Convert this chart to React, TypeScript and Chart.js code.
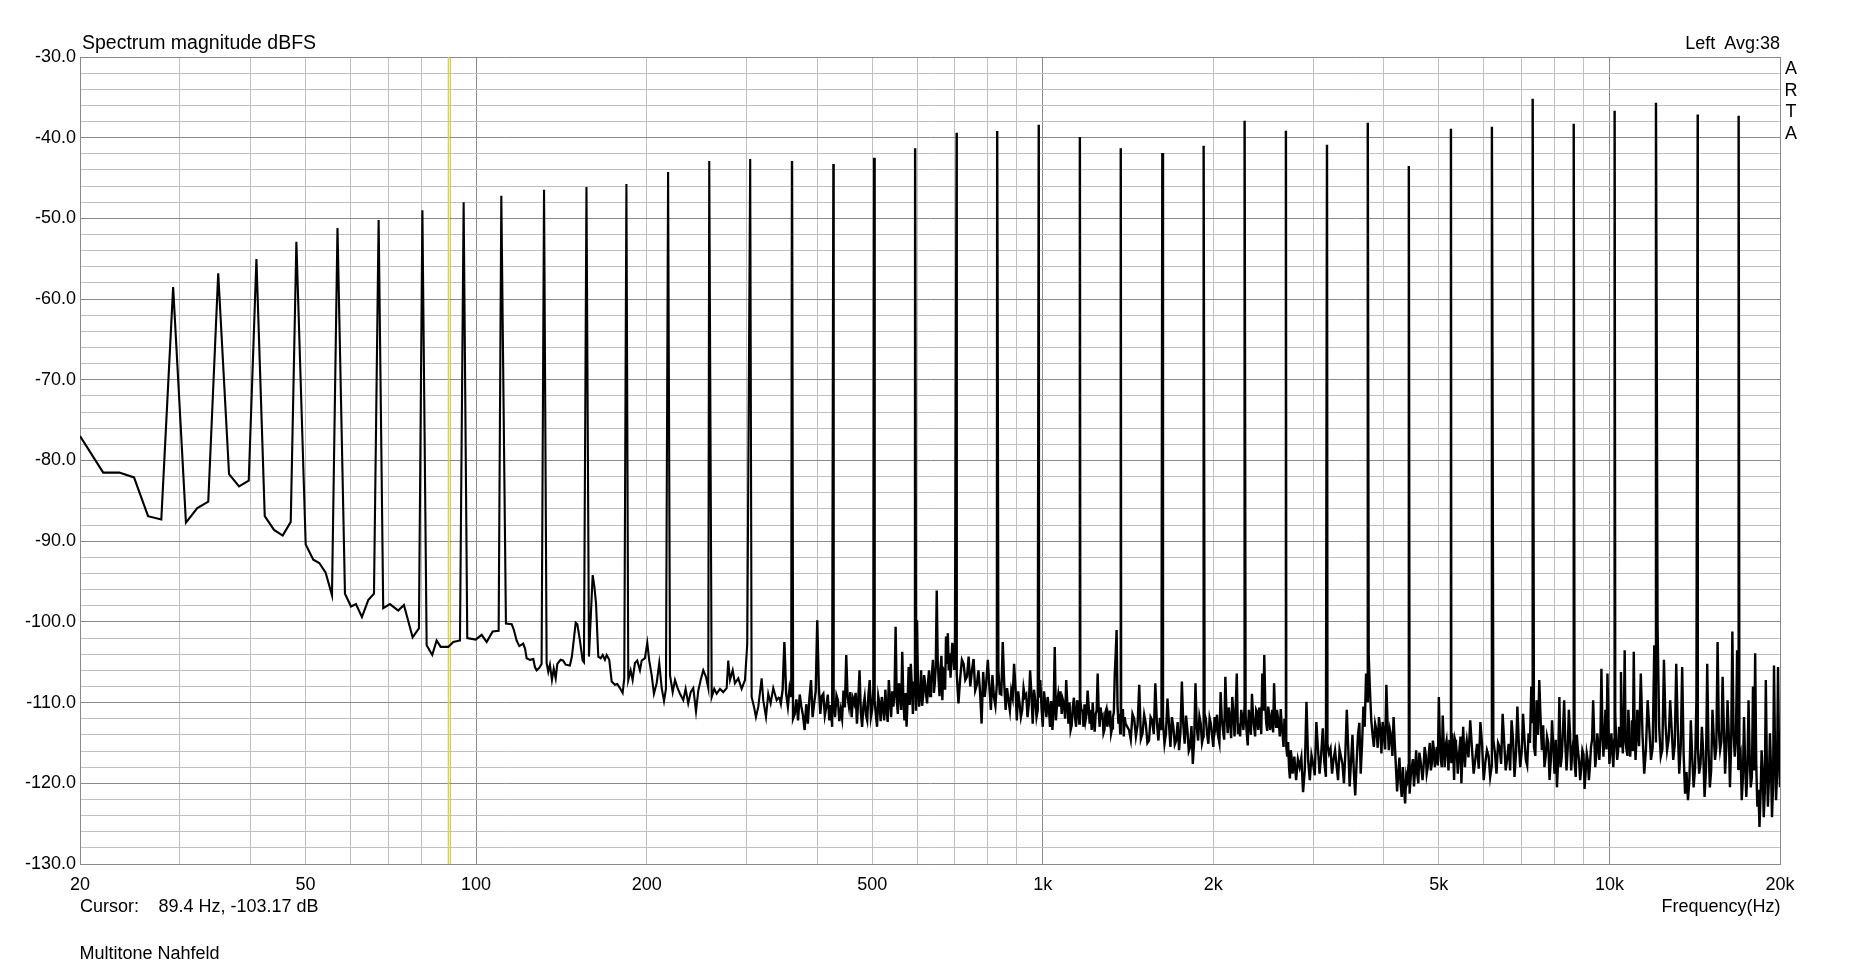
import React, { useEffect, useRef } from 'react';
import { Chart, registerables } from 'chart.js';

Chart.register(...registerables);

// ---- Multitone peaks (Hz, dBFS) ----
const toneHz = [29.2, 35.07, 40.96, 48.18, 56.94, 67.3, 80.4, 95.07, 110.8, 131.8, 156.6, 184.2, 218.2, 257.9, 304.6, 361.0, 427.2, 504.0, 595.4, 704.9, 831.0, 983.9, 1162.8, 1373, 1625.6, 1922.8, 2271, 2686, 3174, 3746, 4426, 5252, 6203, 7321, 8650, 10214, 12082, 14316, 16906];
const toneDb = [-58.5, -56.8, -55.05, -52.9, -51.2, -50.2, -49.0, -48.0, -47.2, -46.45, -46.1, -45.75, -44.26, -42.9, -42.65, -42.9, -43.27, -42.5, -41.3, -39.39, -39.18, -38.4, -39.92, -41.3, -41.9, -41.0, -37.9, -39.14, -40.88, -38.15, -43.5, -38.9, -38.64, -35.17, -38.27, -36.66, -35.67, -37.12, -37.28];

// ---- Low-frequency floor vertices (Hz, dBFS) ----
const lowHz = [20, 21.98, 23.46, 24.91, 26.37, 27.83, 30.76, 32.21, 33.68, 36.65,
  38.17, 39.70, 42.37, 44.0, 45.58, 47.09, 50.04, 51.61, 52.88, 54.27,
  55.68, 58.70, 60.15, 61.38, 62.89, 64.52, 66.04, 68.57, 70.47, 72.88,
  74.59, 77.27, 79.27, 81.80, 83.68, 85.19, 86.59, 89.31, 91.14, 93.66,
  96.48, 99.83, 102.3, 104.4, 106.96, 109.6, 112.9, 115.6, 116.6, 117.9,
  119.2, 121.1, 122.0, 122.8, 124.5, 126.2, 127.0, 127.9, 129.3, 130.5,
  133.2, 134.1, 135.0, 136.1, 137.1, 138.2, 139.1, 141.0, 142.5, 143.9,
  146.4, 147.6, 149.9, 150.9, 152.5, 153.3, 154.2, 155.0, 158.2, 160.6,
  161.7, 162.8, 164.3, 165.9, 167.3, 168.8, 170.0, 171.8, 173.5, 175.8,
  177.5, 179.4, 181.4, 182.6, 185.6, 187.4, 188.9, 190.7, 192.5, 194.6,
  196.0, 198.6, 200.5, 202.1, 204.1, 206.0, 208.3, 210.5, 212.6, 214.6,
  216.3, 219.9, 222.3, 224.4, 226.8, 229.0, 232.1, 234.3, 236.8, 239.2,
  241.7, 244.4, 246.7, 249.1, 251.7, 254.5, 256.9, 260.5, 263.2, 265.8,
  269.4, 273.0, 276.8, 278.6, 280.6, 283.7, 286.3, 290.2, 294.2, 298.2,
  301.0, 306.4, 309.3, 311.8, 314.8, 319.1, 321.2, 324.8, 327.8, 331.0,
  334.5, 339.2, 342.8];
const lowDb = [-76.96, -81.5, -81.5, -82.1, -86.9, -87.3, -87.7, -85.9, -85.1, -81.7,
  -83.2, -82.5, -86.9, -88.6, -89.3, -87.6, -90.4, -92.3, -92.7, -93.9,
  -96.7, -96.5, -98.1, -97.8, -99.4, -97.3, -96.5, -98.3, -97.8, -98.6,
  -97.9, -101.9, -100.8, -102.9, -104.1, -102.3, -103.1, -103.1, -102.5, -102.3,
  -102.0, -102.2, -101.6, -102.5, -101.2, -101.1, -100.2, -100.3, -101.0, -102.3,
  -103.0, -102.7, -103.3, -104.5, -104.7, -104.6, -105.6, -106.0, -105.7, -105.2,
  -105.1, -106.2, -105.3, -107.2, -105.8, -107.0, -105.2, -104.7, -104.8, -105.3,
  -105.4, -104.3, -100.1, -100.3, -102.3, -103.5, -104.8, -105.0, -104.3, -94.2,
  -95.6, -97.7, -104.3, -104.5, -104.1, -104.7, -104.1, -104.7, -107.4, -107.8,
  -107.7, -108.2, -108.8, -107.0, -107.2, -106.0, -107.2, -105.1, -104.8, -106.0,
  -104.8, -104.5, -102.6, -104.8, -106.6, -108.9, -107.6, -105.1, -108.2, -109.8,
  -108.3, -106.6, -108.7, -107.2, -108.2, -108.9, -109.7, -108.3, -110.1, -108.7,
  -108.2, -111.1, -108.5, -107.2, -106.0, -106.8, -108.2, -109.3, -108.3, -108.9,
  -108.3, -108.7, -108.2, -104.8, -107.2, -106.0, -107.6, -107.0, -108.3, -107.2,
  -102.7, -109.3, -110.5, -111.8, -110.5, -107.0, -109.7, -111.8, -108.9, -110.1,
  -108.2, -109.7, -109.3];

// ---- Noise floor, sampled on regular frequency grids (start Hz, step Hz, dBFS) ----
const floorAStart = 345, floorAStep = 2.5;
const floorADb = [-110.1, -108.4, -102.5, -108.9, -110.5, -108.2, -109.3, -112.0, -111.4, -109.6,
  -112.2, -109.0, -110.5, -111.6, -113.4, -110.2, -112.6, -109.4, -107.2, -111.8,
  -110.1, -108.6, -99.8, -107.9, -111.4, -109.2, -108.9, -111.6, -110.5, -109.0,
  -112.2, -110.3, -113.0, -110.0, -111.8, -109.1, -109.7, -112.3, -110.9, -112.0,
  -108.5, -110.6, -104.1, -109.3, -110.5, -108.7, -111.8, -109.5, -110.1, -108.8,
  -112.6, -109.7, -106.0, -111.2, -113.0, -110.4, -109.3, -111.5, -112.2, -109.0,
  -107.2, -111.8, -110.9, -108.2, -109.7, -111.5, -113.0, -109.2, -110.1, -112.3,
  -109.3, -110.6, -112.2, -108.4, -110.9, -112.4, -107.2, -109.5, -111.8, -108.6,
  -110.5, -108.9, -100.6, -109.7, -111.4, -107.6, -108.5, -110.9, -103.7, -109.4,
  -112.2, -108.8, -113.0, -109.6, -105.6, -110.3, -105.2, -108.0, -111.4, -107.4,
  -109.3, -111.0, -99.8, -108.4, -110.5, -108.8, -106.0, -110.4, -109.3, -106.6,
  -107.6, -109.0, -110.1, -107.4, -106.0, -109.2, -107.6, -106.4, -104.7, -108.8,
  -107.6, -105.4, -96.1, -104.6, -107.2, -109.2, -106.0, -104.2, -109.7, -105.8,
  -106.0, -108.4, -101.8, -105.2, -101.4, -106.0, -103.9, -106.9, -104.7, -102.6,
  -103.5, -105.8, -102.7];

const floorBStart = 705, floorBStep = 5;
const floorBDb = [-106.4, -110.1, -107.0, -104.7, -105.2, -107.2, -106.8, -104.3, -108.0, -106.0,
  -104.6, -108.5, -107.8, -106.0, -108.6, -112.6, -106.2, -109.3, -107.4, -104.7,
  -108.0, -110.9, -106.6, -109.3, -110.4, -107.6, -106.0, -108.9, -109.0, -102.5,
  -107.6, -110.9, -108.2, -109.7, -111.0, -108.5, -109.4, -105.2, -108.0, -112.2,
  -108.6, -110.1, -111.8, -110.9, -108.2, -109.3, -109.0, -111.8, -110.2, -106.0,
  -109.0, -112.6, -108.4, -109.7, -111.8, -110.9, -109.4, -107.2, -110.6, -113.0,
  -108.6, -110.1, -111.8, -109.3, -110.6, -113.0, -109.8, -113.4, -111.0, -103.1,
  -112.2, -110.1, -109.0, -110.5, -108.6, -111.4, -109.6, -110.1, -112.0, -107.2,
  -110.2, -112.6, -110.0, -113.4, -112.8, -110.5, -109.4, -111.8, -113.0, -109.7,
  -110.6, -112.6, -109.8, -110.9, -111.0, -113.0, -110.2, -112.2, -111.4, -108.5,
  -110.4, -112.6, -110.9, -113.4, -110.0, -112.2, -113.6, -111.4, -111.0, -106.4,
  -110.8, -113.0, -110.6, -111.8, -111.6, -113.8, -113.4, -111.2, -110.8, -113.0,
  -111.6, -112.2, -111.0, -113.8, -113.2, -111.8, -111.2, -106.4, -104.0, -101.0,
  -110.4, -112.6, -111.4, -113.8, -111.0, -112.2, -110.8, -114.2, -111.8, -112.6];

const floorCStart = 1420, floorCStep = 10;
const floorCDb = [-113.4, -114.6, -111.4, -112.0, -114.2, -112.8, -107.8, -114.5, -113.8, -111.5,
  -112.6, -115.0, -114.7, -111.8, -112.2, -113.9, -107.6, -112.5, -114.7, -111.9,
  -113.4, -112.3, -115.1, -113.8, -109.5, -112.6, -115.5, -111.8, -113.0, -115.2,
  -114.7, -112.4, -115.9, -113.6, -107.4, -112.7, -115.1, -111.6, -113.4, -116.0,
  -115.5, -112.9, -117.6, -114.8, -107.6, -113.1, -114.7, -111.7, -112.6, -115.0,
  -114.2, -111.4, -112.0, -113.9, -115.1, -111.9, -112.6, -114.1, -115.5, -111.8,
  -113.0, -111.5, -114.2, -115.0, -108.7, -112.0, -113.4, -114.6, -106.8, -111.3,
  -113.8, -110.6, -112.2, -114.4, -109.3, -111.2, -114.2, -110.8, -106.4, -113.9,
  -112.6, -114.2, -110.9, -111.9, -113.4, -110.6, -111.4, -113.6, -115.3, -110.9,
  -112.2, -114.0, -108.9, -111.6, -113.0, -114.2, -110.9, -111.2, -113.4, -110.6,
  -111.8, -113.9, -106.4, -111.0, -104.1, -110.2, -112.6, -113.5, -110.5, -111.6,
  -113.4, -112.2, -110.9, -113.7, -107.6, -111.5, -113.0, -110.9, -111.8, -112.6,
  -114.2, -110.8, -112.6, -113.9, -115.5, -112.0, -113.8, -115.4, -116.7, -114.9,
  -118.0, -119.4, -115.9, -116.9, -118.8, -117.8, -116.7, -118.3, -119.6];

const floorDStart = 2820, floorDStep = 20;
const floorDDb = [-117.0, -118.0, -116.8, -121.1, -118.4, -109.9, -117.2, -119.6, -116.5, -117.6,
  -119.0, -112.4, -115.8, -118.8, -116.4, -113.2, -117.4, -119.2, -115.2, -116.3,
  -115.7, -118.8, -117.0, -115.9, -117.8, -119.6, -115.8, -116.7, -117.6, -120.0,
  -116.2, -110.9, -115.6, -120.4, -117.2, -114.0, -118.6, -121.5, -117.4, -114.0,
  -112.5, -118.8, -115.2, -110.5, -113.0, -106.4, -109.8, -104.1, -108.6, -112.2,
  -114.0, -115.5, -112.6, -113.4, -115.6, -111.8, -113.2, -116.3, -112.4, -114.2,
  -115.8, -107.8, -112.6, -115.9, -113.4, -114.2, -116.6, -111.8, -115.0, -118.0,
  -121.0, -118.8, -116.8, -120.0, -121.7, -118.0, -120.6, -122.5, -119.0, -119.6,
  -117.8, -121.3, -119.2, -118.0, -117.0, -120.4, -118.3, -115.9, -118.9, -120.0,
  -116.2, -117.1, -118.3, -119.6, -117.8, -115.5, -116.4, -118.8, -118.0, -116.3,
  -115.0, -118.4, -117.6, -114.7, -115.8, -118.0, -116.6, -115.5, -117.8, -109.3,
  -114.4, -117.1, -118.0, -111.6, -115.0, -118.0, -115.4, -114.7, -116.4, -118.4,
  -114.6, -116.7, -117.5, -113.8, -116.0, -119.6, -114.6, -115.1, -116.4, -118.8,
  -117.2, -115.5, -114.2, -120.0, -116.8, -113.0, -116.0, -118.0, -115.6, -114.7];

const floorEStart = 5640, floorEStep = 40;
const floorEDb = [-116.8, -112.2, -115.6, -118.8, -117.0, -115.1, -118.2, -112.4, -115.2, -119.6,
  -117.4, -115.9, -116.6, -119.2, -117.8, -114.7, -116.2, -118.8, -115.0, -115.5,
  -117.6, -111.4, -114.8, -118.4, -117.0, -115.1, -118.4, -112.2, -114.6, -119.2,
  -116.4, -110.5, -115.0, -118.0, -116.2, -111.4, -114.5, -117.1, -117.8, -113.8,
  -115.0, -108.0, -112.4, -115.5, -116.6, -109.7, -114.0, -107.2, -112.0, -115.9,
  -112.8, -118.0, -116.6, -114.2, -115.0, -119.6, -117.2, -112.2, -115.4, -118.8,
  -114.6, -120.5, -117.2, -109.3, -118.0, -116.7, -113.4, -109.7, -115.2, -118.4,
  -115.8, -110.9, -113.8, -118.4, -116.0, -114.7, -117.4, -119.2, -114.0, -115.9,
  -117.2, -119.6, -118.0, -115.9, -116.4, -120.7, -118.6, -116.3, -117.2, -119.6,
  -117.8, -115.5, -114.6, -109.7, -114.0, -118.0, -116.6, -113.8, -115.2, -117.1,
  -114.4, -105.8, -113.4, -116.7, -114.0, -110.9, -115.8, -106.4, -112.6, -117.6,
  -115.6, -113.8, -116.2, -118.0, -114.6, -111.4, -115.0, -117.1, -116.0, -113.0,
  -115.4, -106.2, -113.6, -116.3, -113.2, -103.5, -114.8, -115.9, -116.6, -110.9,
  -113.2, -116.7, -114.6, -112.2, -116.0, -103.7, -113.8, -117.1, -114.6, -110.9];

const floorFStart = 11280, floorFStep = 80;
const floorFDb = [-115.4, -106.4, -114.0, -118.8, -115.8, -109.7, -113.2, -117.1, -115.6, -102.9,
  -114.8, -100.4, -113.0, -116.7, -115.8, -104.7, -112.6, -115.9, -114.6, -109.7,
  -113.4, -117.1, -115.2, -105.2, -113.0, -118.8, -115.6, -105.6, -116.4, -121.3,
  -118.6, -122.1, -119.6, -112.2, -116.8, -120.5, -118.2, -109.7, -115.6, -118.8,
  -117.6, -113.0, -116.2, -121.7, -118.6, -105.2, -115.8, -120.5, -118.4, -110.9,
  -114.2, -117.1, -115.6, -102.5, -113.4, -115.9, -114.8, -106.8, -113.0, -118.8,
  -115.6, -109.7, -113.8, -120.5, -115.2, -101.2, -113.6, -116.7, -114.4, -103.5,
  -118.2, -117.1, -116.4, -122.1, -119.4, -111.8, -117.6, -121.7, -118.4, -109.7,
  -116.6, -120.5, -119.2, -108.0, -118.4, -103.9, -117.6, -122.9, -120.8, -125.4,
  -121.6, -115.9, -118.4, -124.2, -121.2, -107.2, -117.6, -122.9, -119.4, -113.8,
  -118.0, -124.2, -120.6, -105.4, -116.2, -122.1, -119.0, -105.6, -116.4, -120.5];

// ---- Axes ----
const xGridHz = [20, 30, 40, 50, 60, 70, 80, 90, 100, 200, 300, 400, 500, 600, 700, 800, 900,
  1000, 2000, 3000, 4000, 5000, 6000, 7000, 8000, 9000, 10000, 20000];
const xMajorHz = [20, 100, 1000, 10000, 20000];
const xLabelHz = [20, 50, 100, 200, 500, 1000, 2000, 5000, 10000, 20000];
const xLabelText = ['20', '50', '100', '200', '500', '1k', '2k', '5k', '10k', '20k'];
const yMin = -130, yMax = -30, yGridStep = 2, yLabelStep = 10;

const cursorHz = 89.4;
const cursorText = '89.4 Hz, -103.17 dB';
const splitHz = 342.8; // boundary between the sparse low-frequency trace and the dense FFT floor

const FONT = '"Liberation Sans", Arial, Helvetica, sans-serif';
const MINOR = '#c0c0c0';
const MAJOR = '#8a8a8a';

function buildPoints() {
  const pts: { x: number; y: number }[] = [];
  lowHz.forEach((f, i) => pts.push({ x: f, y: lowDb[i] }));
  const segs = [
    { s: floorAStart, d: floorAStep, v: floorADb },
    { s: floorBStart, d: floorBStep, v: floorBDb },
    { s: floorCStart, d: floorCStep, v: floorCDb },
    { s: floorDStart, d: floorDStep, v: floorDDb },
    { s: floorEStart, d: floorEStep, v: floorEDb },
    { s: floorFStart, d: floorFStep, v: floorFDb },
  ];
  segs.forEach((g) => g.v.forEach((v, i) => pts.push({ x: g.s + i * g.d, y: v })));
  toneHz.forEach((f, i) => pts.push({ x: f, y: toneDb[i] }));
  pts.sort((a, b) => a.x - b.x);
  return pts;
}

const cursorPlugin = {
  id: 'cursorLine',
  beforeDatasetsDraw(chart: any) {
    const { ctx, chartArea, scales } = chart;
    const x = scales.x.getPixelForValue(cursorHz);
    ctx.save();
    ctx.strokeStyle = 'rgb(218, 212, 60)';
    ctx.lineWidth = 1.6;
    ctx.beginPath();
    ctx.moveTo(x, chartArea.top);
    ctx.lineTo(x, chartArea.bottom);
    ctx.stroke();
    ctx.restore();
  },
};

export default function App() {
  const canvasRef = useRef<HTMLCanvasElement | null>(null);

  useEffect(() => {
    if (!canvasRef.current) return;
    const yTicks: number[] = [];
    for (let v = yMin; v <= yMax; v += yGridStep) yTicks.push(v);
    const pts = buildPoints();
    const lowPart = pts.filter((p) => p.x <= splitHz);
    const highPart = pts.filter((p) => p.x >= splitHz);

    const chart = new Chart(canvasRef.current, {
      type: 'line',
      data: {
        datasets: [
          { data: lowPart, borderColor: '#000000', borderWidth: 2.1, pointRadius: 0, tension: 0, fill: false },
          { data: highPart, borderColor: '#000000', borderWidth: 2.4, pointRadius: 0, tension: 0, fill: false },
        ],
      },
      options: {
        responsive: false,
        animation: false,
        devicePixelRatio: 1,
        events: [],
        layout: { padding: { left: 0, right: 80, top: 57, bottom: 63 } },
        plugins: { legend: { display: false }, tooltip: { enabled: false } },
        scales: {
          x: {
            type: 'logarithmic',
            min: 20,
            max: 20000,
            afterBuildTicks: (s: any) => {
              s.ticks = xGridHz.map((v) => ({ value: v }));
            },
            afterFit: (s: any) => {
              s.height = 40;
            },
            ticks: {
              autoSkip: false,
              maxRotation: 0,
              minRotation: 0,
              padding: 10,
              color: '#000000',
              font: { family: FONT, size: 18 },
              callback: (v: any) => {
                const i = xLabelHz.indexOf(Number(v));
                return i >= 0 ? xLabelText[i] : '';
              },
            },
            grid: {
              drawTicks: false,
              lineWidth: 1,
              color: (c: any) => (c.tick && xMajorHz.includes(c.tick.value) ? MAJOR : MINOR),
            },
            border: { display: true, color: MAJOR },
          },
          y: {
            type: 'linear',
            min: yMin,
            max: yMax,
            afterBuildTicks: (s: any) => {
              s.ticks = yTicks.map((v) => ({ value: v }));
            },
            afterFit: (s: any) => {
              s.width = 80;
            },
            ticks: {
              autoSkip: false,
              padding: 4,
              color: '#000000',
              font: { family: FONT, size: 18 },
              callback: (v: any) => (Number(v) % yLabelStep === 0 ? Number(v).toFixed(1) : ''),
            },
            grid: {
              drawTicks: false,
              lineWidth: 1,
              color: (c: any) => (c.tick && c.tick.value % yLabelStep === 0 ? MAJOR : MINOR),
            },
            border: { display: true, color: MAJOR },
          },
        },
      } as any,
      plugins: [cursorPlugin],
    });
    return () => chart.destroy();
  }, []);

  const txt: React.CSSProperties = {
    position: 'absolute',
    fontFamily: FONT,
    fontSize: 18,
    lineHeight: '20px',
    height: 20,
    color: '#000',
    whiteSpace: 'pre',
  };

  return (
    <div style={{ position: 'fixed', left: 0, top: 0, width: 1860, height: 967, background: '#ffffff', overflow: 'hidden' }}>
      <canvas ref={canvasRef} width={1860} height={967} style={{ display: 'block', position: 'absolute', left: 0, top: 0 }} />
      <div style={{ ...txt, fontSize: 19.5, left: 82, top: 32 }}>Spectrum magnitude dBFS</div>
      <div style={{ ...txt, right: 1860 - 1780, top: 33 }}>Left  Avg:38</div>
      {['A', 'R', 'T', 'A'].map((ch, i) => (
        <div key={i} style={{ ...txt, left: 1781, width: 20, textAlign: 'center', top: [58, 80, 101, 123][i] }}>{ch}</div>
      ))}
      <div style={{ ...txt, left: 80, top: 896 }}>Cursor:</div>
      <div style={{ ...txt, left: 158.5, top: 896 }}>{cursorText}</div>
      <div style={{ ...txt, right: 1860 - 1780.5, top: 896 }}>Frequency(Hz)</div>
      <div style={{ ...txt, left: 79.5, top: 942.5 }}>Multitone Nahfeld</div>
    </div>
  );
}
